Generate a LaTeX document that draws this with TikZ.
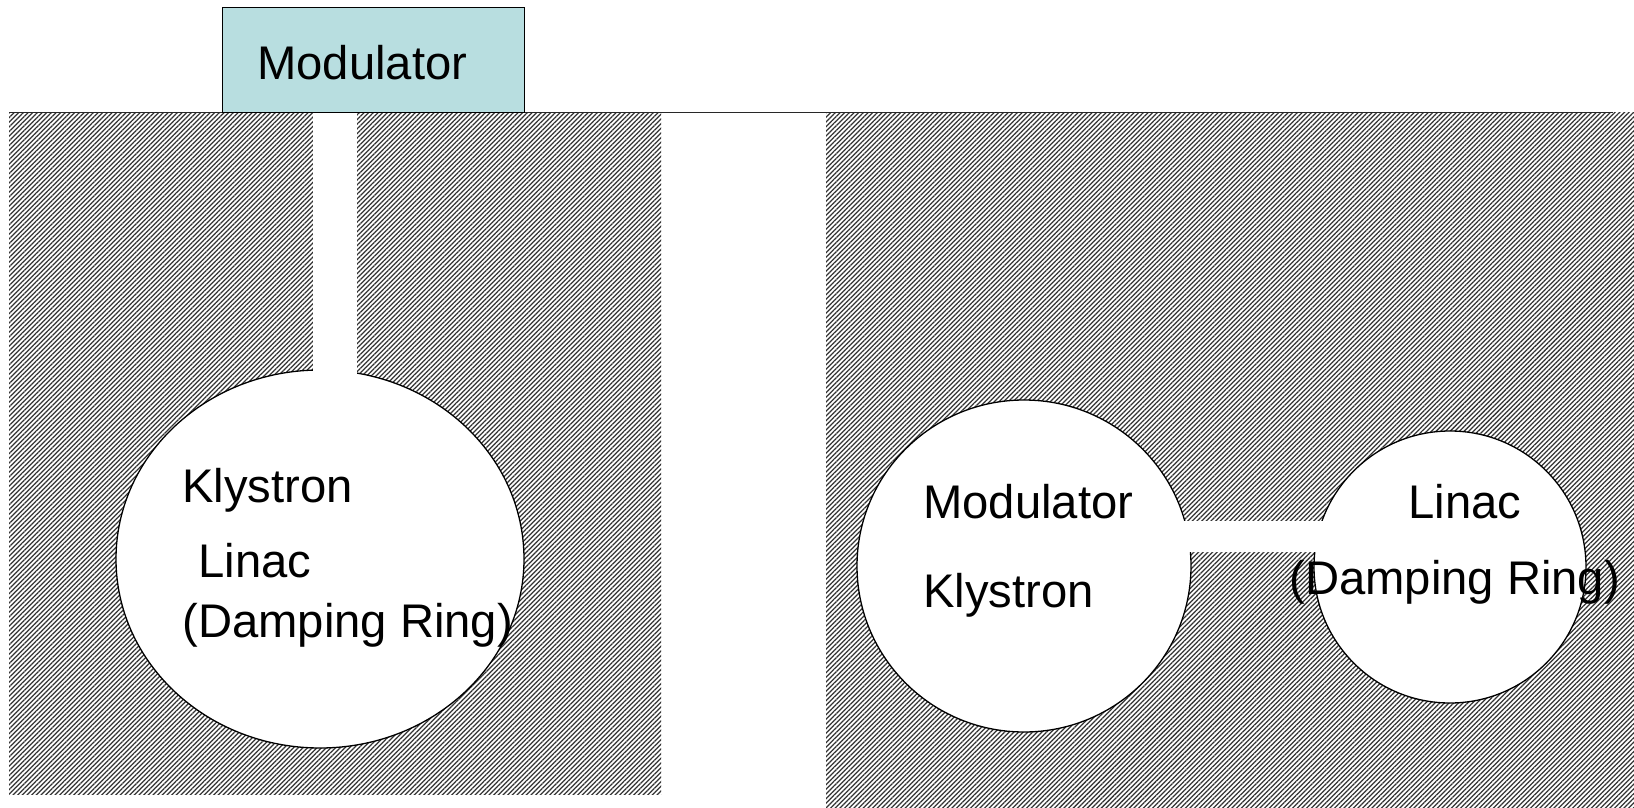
\documentclass[tikz,border=0pt]{standalone}
\usepackage{fontspec}
\setmainfont{Liberation Sans}
\usetikzlibrary{patterns.meta}
\definecolor{boxblue}{RGB}{184,222,224}
\definecolor{edgegray}{RGB}{40,40,40}
\tikzset{
  hatch/.style={pattern={Lines[angle=45,distance=1.65pt,line width=0.62pt]},pattern color=black!80},
  hole/.style={draw=black,line width=0.65pt,fill=white},
  channel/.style={fill=white,draw=none},
  label/.style={anchor=base west,inner sep=0pt,font=\fontsize{23.6}{28}\selectfont},
}
\begin{document}
\begin{tikzpicture}[x=0.5pt,y=-0.5pt]
\useasboundingbox (0,0) rectangle (1634,808);
% hatched regions
\fill[hatch] (9,113) rectangle (661,794);
\fill[hatch] (826,113) rectangle (1634,808);
% holes
\draw[hole] (320,559) ellipse [x radius=204,y radius=189];
\draw[hole] (1024,566) ellipse [x radius=167,y radius=166];
\draw[hole] (1450,567) ellipse [x radius=136,y radius=136];
% channels
\fill[channel] (313,112) rectangle (357,380);
\fill[channel] (1175,521) rectangle (1330,552);
% top line
\draw[edgegray,line width=0.65pt] (9,112.5) -- (1613,112.5);
% modulator box
\node[draw=black,line width=0.5pt,fill=boxblue,anchor=north west,minimum width=151pt,minimum height=52.5pt,inner sep=0pt] (box) at (222,7) {};
\node[label] (tmod) at (257,80) {Modulator};
% left texts
\node[label] (tkly) at (182,502) {Klystron};
\node[label] (tlin) at (198,577) {Linac};
\node[label] (tdr) at (182,637) {(Damping Ring)};
% right texts
\node[label] (rmod) at (923,518) {Modulator};
\node[label] (rkly) at (923,607) {Klystron};
\node[label] (rlin) at (1408,518) {Linac};
\node[label] (rdr) at (1289,594) {(Damping Ring)};
\end{tikzpicture}
\end{document}
